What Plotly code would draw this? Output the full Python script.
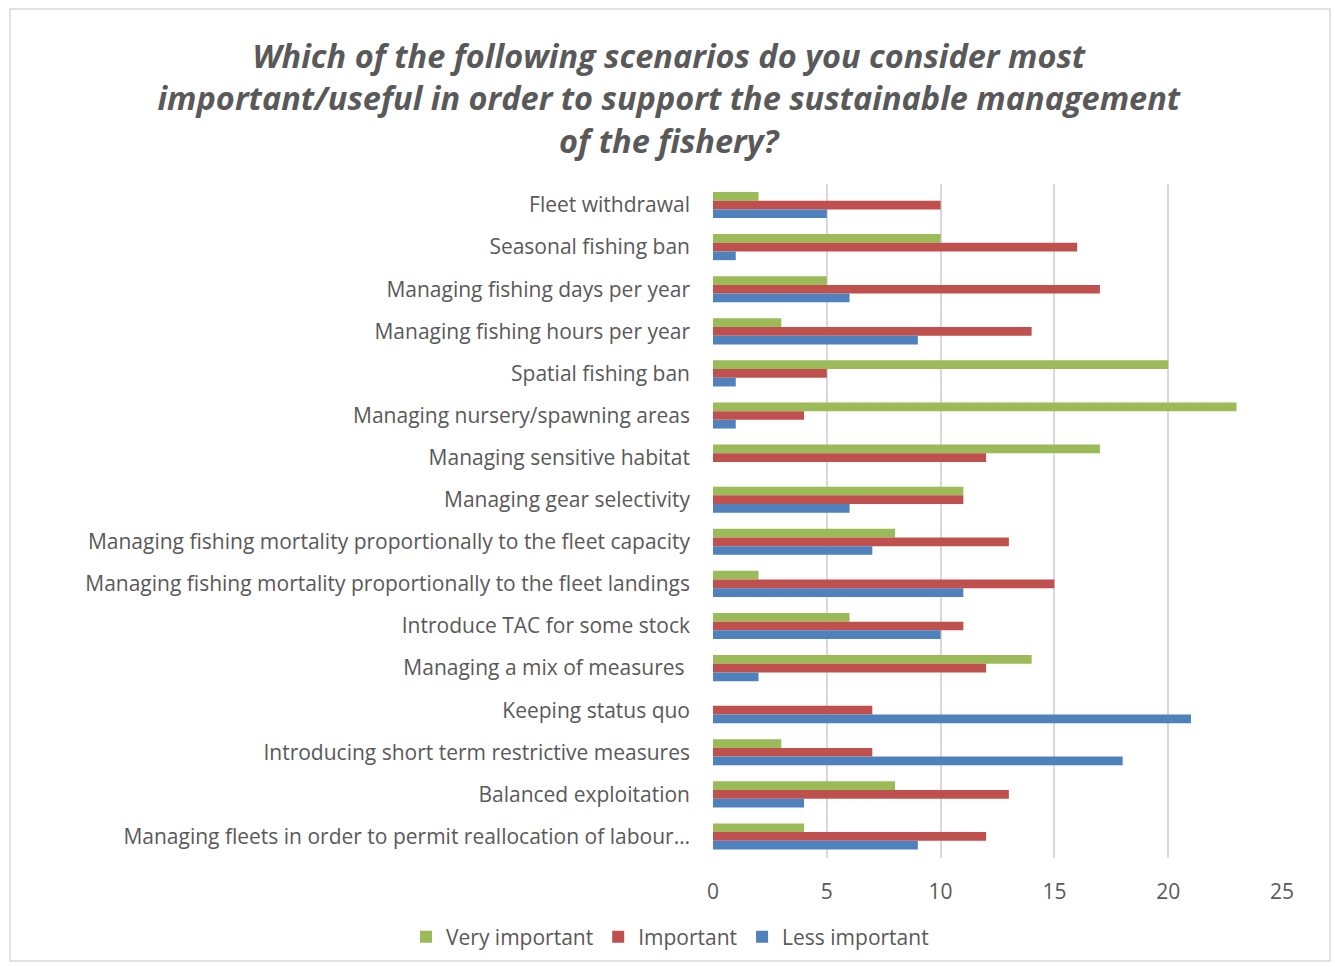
import plotly.graph_objects as go

categories = [
    "Fleet withdrawal",
    "Seasonal fishing ban",
    "Managing fishing days per year",
    "Managing fishing hours per year",
    "Spatial fishing ban",
    "Managing nursery/spawning areas",
    "Managing sensitive habitat",
    "Managing gear selectivity",
    "Managing fishing mortality proportionally to the fleet capacity",
    "Managing fishing mortality proportionally to the fleet landings",
    "Introduce TAC for some stock",
    "Managing a mix of measures ",
    "Keeping status quo",
    "Introducing short term restrictive measures",
    "Balanced exploitation",
    "Managing fleets in order to permit reallocation of labour…",
]
very_important = [2, 10, 5, 3, 20, 23, 17, 11, 8, 2, 6, 14, 0, 3, 8, 4]
important = [10, 16, 17, 14, 5, 4, 12, 11, 13, 15, 11, 12, 7, 7, 13, 12]
less_important = [5, 1, 6, 9, 1, 1, 0, 6, 7, 11, 10, 2, 21, 18, 4, 9]

x_ticks = [0, 5, 10, 15, 20, 25]

series = [
    ("Very important", very_important, "#9BBB59"),
    ("Important", important, "#C0504D"),
    ("Less important", less_important, "#4F81BD"),
]

FONT = "Open Sans, sans-serif"
GREY = "#595959"

fig = go.Figure()
for name, vals, color in series:
    fig.add_trace(go.Bar(
        y=categories, x=vals, name=name, orientation="h",
        marker=dict(color=color, line=dict(width=0)),
    ))

W, H = 1335, 967
L, R, T, B = 713, 1282, 184, 861
pw, ph = R - L, B - T

fig.update_layout(
    width=W, height=H,
    margin=dict(l=L, r=W - R, t=T, b=H - B, pad=0),
    paper_bgcolor="white", plot_bgcolor="white",
    barmode="group", bargap=0.38, bargroupgap=0,
    font=dict(family=FONT, color=GREY, size=21),
    title=dict(
        text="Which of the following scenarios do you consider most<br>important/useful in order to support the sustainable management<br>of the fishery?",
        x=0.501, xref="container", xanchor="center",
        y=1 - 68 / H, yref="container", yanchor="middle",
        font=dict(family=FONT, size=32.5, color=GREY, weight="bold", style="italic"),
    ),
    showlegend=True,
    legend=dict(
        orientation="h", xref="container", yref="container",
        x=670 / W, xanchor="center", y=1 - 937 / H, yanchor="middle",
        font=dict(size=21, color=GREY), traceorder="normal",
        itemwidth=30,
    ),
    xaxis=dict(
        range=[0, 25], tickvals=x_ticks, showgrid=True, gridcolor="#D9D9D9",
        gridwidth=2, zeroline=False, showline=False, ticks="",
        tickfont=dict(size=21, color=GREY), ticklabelstandoff=19,
    ),
    yaxis=dict(
        autorange="reversed", showgrid=False, zeroline=False, showline=False,
        ticks="", tickfont=dict(size=21, color=GREY), ticklabelstandoff=22,
    ),
    shapes=[dict(
        type="rect", xref="paper", yref="paper",
        x0=(10 - L) / pw, x1=(1330 - L) / pw,
        y0=(B - 965) / ph, y1=(B - 8) / ph,
        line=dict(color="#D9D9D9", width=1.5), fillcolor="rgba(0,0,0,0)", layer="below",
    )],
)

fig.write_html("out.html")
